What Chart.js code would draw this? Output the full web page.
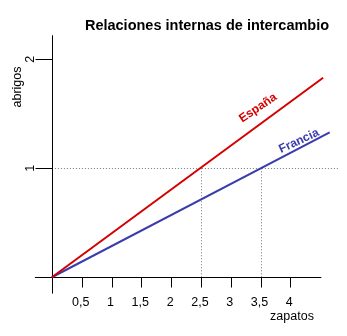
<!DOCTYPE html>
<html>
<head>
<meta charset="utf-8">
<script src="https://cdn.jsdelivr.net/npm/chart.js@4"></script>
<style>
html,body{margin:0;padding:0;background:#fff;}
#wrap{width:347px;height:336px;}
</style>
</head>
<body>
<div id="wrap"><canvas id="c" width="347" height="336"></canvas></div>
<script>
const title = "Relaciones internas de intercambio";
const xTitle = "zapatos";
const yTitle = "abrigos";
const xTicks = [0.5, 1, 1.5, 2, 2.5, 3, 3.5, 4];
const xTickLabels = ["0,5", "1", "1,5", "2", "2,5", "3", "3,5", "4"];
const yTicks = [1, 2];
const yTickLabels = ["1", "2"];
const espanaX = [0, 4.55];
const espanaY = [0, 1.83];
const franciaX = [0, 4.66];
const franciaY = [0, 1.33];
const refY = 1;
const refX = [2.5, 3.5];
const seriesNames = ["España", "Francia"];

const RED = "#d40000";
const BLUE = "#3a3cae";
const FONT = "Liberation Sans, Arial, sans-serif";

const decor = {
  id: "decor",
  beforeDatasetsDraw(chart) {
    const ctx = chart.ctx;
    const xs = chart.scales.x, ys = chart.scales.y;
    const px = v => xs.getPixelForValue(v);
    const py = v => ys.getPixelForValue(v);
    ctx.save();
    // dotted reference lines
    ctx.strokeStyle = "#777";
    ctx.lineWidth = 1;
    ctx.setLineDash([1, 2]);
    ctx.beginPath();
    ctx.moveTo(px(0), Math.round(py(refY)) + 0.5);
    ctx.lineTo(px(4.8), Math.round(py(refY)) + 0.5);
    refX.forEach(v => {
      ctx.moveTo(Math.round(px(v)) + 0.5, py(refY));
      ctx.lineTo(Math.round(px(v)) + 0.5, py(0));
    });
    ctx.stroke();
    ctx.setLineDash([]);
    // axes
    ctx.strokeStyle = "#000";
    ctx.lineWidth = 1;
    const x0 = Math.round(px(0)) + 0.5, y0 = Math.round(py(0)) + 0.5;
    ctx.beginPath();
    ctx.moveTo(x0, py(2.22));
    ctx.lineTo(x0, py(-0.15));
    ctx.moveTo(px(-0.285), y0);
    ctx.lineTo(px(4.52), y0);
    xTicks.forEach(v => {
      const x = Math.round(px(v)) + 0.5;
      ctx.moveTo(x, y0);
      ctx.lineTo(x, y0 + 10);
    });
    yTicks.forEach(v => {
      const y = Math.round(py(v)) + 0.5;
      ctx.moveTo(x0, y);
      ctx.lineTo(x0 - 17, y);
    });
    ctx.stroke();
    // tick labels
    ctx.fillStyle = "#000";
    ctx.font = "12.5px " + FONT;
    ctx.textAlign = "center";
    ctx.textBaseline = "middle";
    xTicks.forEach((v, i) => {
      ctx.fillText(xTickLabels[i], px(v) - 1, y0 + 25);
    });
    yTicks.forEach((v, i) => {
      ctx.save();
      ctx.translate(x0 - 22, py(v));
      ctx.rotate(-Math.PI / 2);
      ctx.fillText(yTickLabels[i], 0, 0);
      ctx.restore();
    });
    // axis titles
    ctx.fillText(xTitle, 292, 317);
    ctx.save();
    ctx.translate(18, 87);
    ctx.rotate(-Math.PI / 2);
    ctx.fillText(yTitle, 0, 0);
    ctx.restore();
    // chart title
    ctx.font = "bold 14.5px " + FONT;
    ctx.fillText(title, 207, 26);
    // series labels
    ctx.font = "bold 12px " + FONT;
    ctx.fillStyle = RED;
    ctx.save();
    ctx.translate(258, 108);
    ctx.rotate(-34 * Math.PI / 180);
    ctx.fillText(seriesNames[0], 0, 0);
    ctx.restore();
    ctx.fillStyle = BLUE;
    ctx.save();
    ctx.translate(299, 141);
    ctx.rotate(-25 * Math.PI / 180);
    ctx.fillText(seriesNames[1], 0, 0);
    ctx.restore();
    ctx.restore();
  }
};

const toPts = (xa, ya) => xa.map((x, i) => ({x: x, y: ya[i]}));

new Chart(document.getElementById("c"), {
  type: "scatter",
  data: {
    datasets: [
      {label: seriesNames[0], data: toPts(espanaX, espanaY), showLine: true, borderColor: RED, borderWidth: 2, pointRadius: 0, fill: false},
      {label: seriesNames[1], data: toPts(franciaX, franciaY), showLine: true, borderColor: BLUE, borderWidth: 2, pointRadius: 0, fill: false}
    ]
  },
  options: {
    responsive: false,
    animation: false,
    devicePixelRatio: 1,
    layout: {padding: {left: 34, right: 3, top: 32, bottom: 42.4}},
    plugins: {legend: {display: false}, title: {display: false}, tooltip: {enabled: false}},
    scales: {
      x: {type: "linear", min: -0.3, max: 4.9, display: false},
      y: {type: "linear", min: -0.15, max: 2.25, display: false}
    }
  },
  plugins: [decor]
});
</script>
</body>
</html>
